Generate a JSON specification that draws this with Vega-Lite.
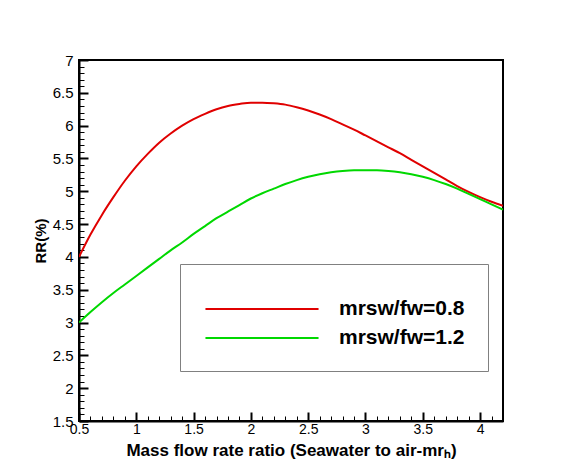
{
  "$schema": "https://vega.github.io/schema/vega-lite/v6.json",
  "width": 424,
  "height": 361,
  "autosize": {"type": "none"},
  "padding": {"left": 79, "top": 60, "right": 63, "bottom": 46},
  "background": "white",
  "config": {
    "view": {"stroke": "black", "strokeWidth": 2},
    "font": "Liberation Sans"
  },
  "data": {
    "values": [
      {"x": 0.5, "rr": 4.0, "series": "mrsw/fw=0.8"},
      {"x": 0.6, "rr": 4.34, "series": "mrsw/fw=0.8"},
      {"x": 0.7, "rr": 4.64, "series": "mrsw/fw=0.8"},
      {"x": 0.8, "rr": 4.91, "series": "mrsw/fw=0.8"},
      {"x": 0.9, "rr": 5.16, "series": "mrsw/fw=0.8"},
      {"x": 1.0, "rr": 5.38, "series": "mrsw/fw=0.8"},
      {"x": 1.1, "rr": 5.57, "series": "mrsw/fw=0.8"},
      {"x": 1.2, "rr": 5.74, "series": "mrsw/fw=0.8"},
      {"x": 1.3, "rr": 5.88, "series": "mrsw/fw=0.8"},
      {"x": 1.4, "rr": 6.0, "series": "mrsw/fw=0.8"},
      {"x": 1.5, "rr": 6.1, "series": "mrsw/fw=0.8"},
      {"x": 1.6, "rr": 6.18, "series": "mrsw/fw=0.8"},
      {"x": 1.7, "rr": 6.25, "series": "mrsw/fw=0.8"},
      {"x": 1.8, "rr": 6.3, "series": "mrsw/fw=0.8"},
      {"x": 1.9, "rr": 6.33, "series": "mrsw/fw=0.8"},
      {"x": 2.0, "rr": 6.35, "series": "mrsw/fw=0.8"},
      {"x": 2.1, "rr": 6.35, "series": "mrsw/fw=0.8"},
      {"x": 2.2, "rr": 6.34, "series": "mrsw/fw=0.8"},
      {"x": 2.3, "rr": 6.32, "series": "mrsw/fw=0.8"},
      {"x": 2.4, "rr": 6.28, "series": "mrsw/fw=0.8"},
      {"x": 2.5, "rr": 6.23, "series": "mrsw/fw=0.8"},
      {"x": 2.6, "rr": 6.17, "series": "mrsw/fw=0.8"},
      {"x": 2.7, "rr": 6.1, "series": "mrsw/fw=0.8"},
      {"x": 2.8, "rr": 6.02, "series": "mrsw/fw=0.8"},
      {"x": 2.9, "rr": 5.94, "series": "mrsw/fw=0.8"},
      {"x": 3.0, "rr": 5.85, "series": "mrsw/fw=0.8"},
      {"x": 3.1, "rr": 5.76, "series": "mrsw/fw=0.8"},
      {"x": 3.2, "rr": 5.67, "series": "mrsw/fw=0.8"},
      {"x": 3.3, "rr": 5.58, "series": "mrsw/fw=0.8"},
      {"x": 3.4, "rr": 5.48, "series": "mrsw/fw=0.8"},
      {"x": 3.5, "rr": 5.38, "series": "mrsw/fw=0.8"},
      {"x": 3.6, "rr": 5.28, "series": "mrsw/fw=0.8"},
      {"x": 3.7, "rr": 5.18, "series": "mrsw/fw=0.8"},
      {"x": 3.8, "rr": 5.08, "series": "mrsw/fw=0.8"},
      {"x": 3.9, "rr": 4.99, "series": "mrsw/fw=0.8"},
      {"x": 4.0, "rr": 4.91, "series": "mrsw/fw=0.8"},
      {"x": 4.1, "rr": 4.84, "series": "mrsw/fw=0.8"},
      {"x": 4.2, "rr": 4.78, "series": "mrsw/fw=0.8"},
      {"x": 0.5, "rr": 3.0, "series": "mrsw/fw=1.2"},
      {"x": 0.6, "rr": 3.16, "series": "mrsw/fw=1.2"},
      {"x": 0.7, "rr": 3.31, "series": "mrsw/fw=1.2"},
      {"x": 0.8, "rr": 3.45, "series": "mrsw/fw=1.2"},
      {"x": 0.9, "rr": 3.58, "series": "mrsw/fw=1.2"},
      {"x": 1.0, "rr": 3.71, "series": "mrsw/fw=1.2"},
      {"x": 1.1, "rr": 3.84, "series": "mrsw/fw=1.2"},
      {"x": 1.2, "rr": 3.97, "series": "mrsw/fw=1.2"},
      {"x": 1.3, "rr": 4.1, "series": "mrsw/fw=1.2"},
      {"x": 1.4, "rr": 4.22, "series": "mrsw/fw=1.2"},
      {"x": 1.5, "rr": 4.35, "series": "mrsw/fw=1.2"},
      {"x": 1.6, "rr": 4.47, "series": "mrsw/fw=1.2"},
      {"x": 1.7, "rr": 4.59, "series": "mrsw/fw=1.2"},
      {"x": 1.8, "rr": 4.69, "series": "mrsw/fw=1.2"},
      {"x": 1.9, "rr": 4.79, "series": "mrsw/fw=1.2"},
      {"x": 2.0, "rr": 4.89, "series": "mrsw/fw=1.2"},
      {"x": 2.1, "rr": 4.97, "series": "mrsw/fw=1.2"},
      {"x": 2.2, "rr": 5.04, "series": "mrsw/fw=1.2"},
      {"x": 2.3, "rr": 5.11, "series": "mrsw/fw=1.2"},
      {"x": 2.4, "rr": 5.17, "series": "mrsw/fw=1.2"},
      {"x": 2.5, "rr": 5.22, "series": "mrsw/fw=1.2"},
      {"x": 2.6, "rr": 5.26, "series": "mrsw/fw=1.2"},
      {"x": 2.7, "rr": 5.29, "series": "mrsw/fw=1.2"},
      {"x": 2.8, "rr": 5.31, "series": "mrsw/fw=1.2"},
      {"x": 2.9, "rr": 5.32, "series": "mrsw/fw=1.2"},
      {"x": 3.0, "rr": 5.32, "series": "mrsw/fw=1.2"},
      {"x": 3.1, "rr": 5.32, "series": "mrsw/fw=1.2"},
      {"x": 3.2, "rr": 5.31, "series": "mrsw/fw=1.2"},
      {"x": 3.3, "rr": 5.29, "series": "mrsw/fw=1.2"},
      {"x": 3.4, "rr": 5.26, "series": "mrsw/fw=1.2"},
      {"x": 3.5, "rr": 5.22, "series": "mrsw/fw=1.2"},
      {"x": 3.6, "rr": 5.17, "series": "mrsw/fw=1.2"},
      {"x": 3.7, "rr": 5.11, "series": "mrsw/fw=1.2"},
      {"x": 3.8, "rr": 5.04, "series": "mrsw/fw=1.2"},
      {"x": 3.9, "rr": 4.96, "series": "mrsw/fw=1.2"},
      {"x": 4.0, "rr": 4.88, "series": "mrsw/fw=1.2"},
      {"x": 4.1, "rr": 4.8, "series": "mrsw/fw=1.2"},
      {"x": 4.2, "rr": 4.72, "series": "mrsw/fw=1.2"}
    ]
  },
  "mark": {"type": "line", "interpolate": "monotone", "strokeWidth": 2, "clip": true},
  "encoding": {
    "x": {
      "field": "x",
      "type": "quantitative",
      "scale": {"domain": [0.5, 4.2], "nice": false, "zero": false},
      "axis": {
        "title": "Mass flow rate ratio (Seawater to air-mrₕ)",
        "titleFont": "Liberation Sans",
        "titleFontSize": 17,
        "titleFontWeight": "bold",
        "titleColor": "black",
        "titleBaseline": "alphabetic",
        "titleY": 34,
        "values": [0.5,0.6,0.7,0.8,0.9,1.0,1.1,1.2,1.3,1.4,1.5,1.6,1.7,1.8,1.9,2.0,2.1,2.2,2.3,2.4,2.5,2.6,2.7,2.8,2.9,3.0,3.1,3.2,3.3,3.4,3.5,3.6,3.7,3.8,3.9,4.0,4.1,4.2],
        "format": ".1~f",
        "labelExpr": "abs(datum.value*2 - round(datum.value*2)) < 0.01 ? datum.label : ''",
        "labelFont": "Liberation Sans",
        "labelFontSize": 14,
        "labelColor": "black",
        "labelPadding": 10,
        "labelFlush": false,
        "labelOverlap": false,
        "domainColor": "black",
        "domainWidth": 2,
        "tickColor": "black",
        "tickSize": {"condition": {"test": "abs(datum.value*2 - round(datum.value*2)) < 0.01", "value": -9}, "value": -5},
        "tickWidth": {"condition": {"test": "abs(datum.value*2 - round(datum.value*2)) < 0.01", "value": 2}, "value": 1},
        "grid": false
      }
    },
    "y": {
      "field": "rr",
      "type": "quantitative",
      "scale": {"domain": [1.5, 7], "nice": false, "zero": false},
      "axis": {
        "title": "RR(%)",
        "titleFont": "Liberation Sans",
        "titleFontSize": 15,
        "titleFontWeight": "bold",
        "titleColor": "black",
        "titleBaseline": "alphabetic",
        "titleX": -34,
        "values": [1.5,1.6,1.7,1.8,1.9,2.0,2.1,2.2,2.3,2.4,2.5,2.6,2.7,2.8,2.9,3.0,3.1,3.2,3.3,3.4,3.5,3.6,3.7,3.8,3.9,4.0,4.1,4.2,4.3,4.4,4.5,4.6,4.7,4.8,4.9,5.0,5.1,5.2,5.3,5.4,5.5,5.6,5.7,5.8,5.9,6.0,6.1,6.2,6.3,6.4,6.5,6.6,6.7,6.8,6.9,7.0],
        "format": ".1~f",
        "labelExpr": "abs(datum.value*2 - round(datum.value*2)) < 0.01 ? datum.label : ''",
        "labelFont": "Liberation Sans",
        "labelFontSize": 15,
        "labelColor": "black",
        "labelPadding": 15,
        "labelFlush": false,
        "labelOverlap": false,
        "domainColor": "black",
        "domainWidth": 2,
        "tickColor": "black",
        "tickSize": {"condition": {"test": "abs(datum.value*2 - round(datum.value*2)) < 0.01", "value": -9}, "value": -5},
        "tickWidth": {"condition": {"test": "abs(datum.value*2 - round(datum.value*2)) < 0.01", "value": 2}, "value": 1},
        "grid": false
      }
    },
    "color": {
      "field": "series",
      "type": "nominal",
      "scale": {"domain": ["mrsw/fw=0.8", "mrsw/fw=1.2"], "range": ["#e00000", "#00d800"]},
      "legend": {
        "orient": "none",
        "legendX": 101,
        "legendY": 204,
        "title": " ",
        "titleFontSize": 8,
        "titlePadding": 2,
        "padding": 23,
        "strokeColor": "#808080",
        "fillColor": "white",
        "symbolType": "M-5.14,0H5.14",
        "symbolSize": 484,
        "symbolStrokeWidth": 2,
        "symbolOffset": 47,
        "labelOffset": 65,
        "labelFont": "Liberation Sans",
        "labelFontSize": 21,
        "labelFontWeight": "bold",
        "labelColor": "black",
        "rowPadding": 7,
        "labelLimit": 300
      }
    }
  }
}
